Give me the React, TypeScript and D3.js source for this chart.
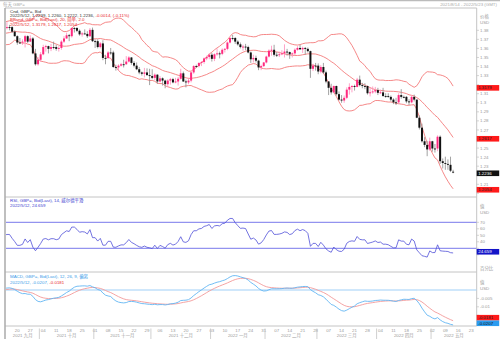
import React from 'react';
import * as d3 from 'd3';

// ---------- DATA (daily GBP= bid, weekdays from 2021-08-16) ----------
const startDate = '2021-08-16';
const endCalendar = '2022-06-01';

const opens = [
  1.3865, 1.3825, 1.3745, 1.3735, 1.3650,
  1.3625, 1.3715, 1.3735, 1.3715, 1.3720,
  1.3765, 1.3765, 1.3755, 1.3795, 1.3835,
  1.3865, 1.3845, 1.3785, 1.3765, 1.3835,
  1.3835, 1.3825, 1.3835, 1.3835, 1.3785,
  1.3735, 1.3665, 1.3665, 1.3675, 1.3735,
  1.3675, 1.3710, 1.3545, 1.3425, 1.3475,
  1.3535, 1.3615, 1.3625, 1.3595, 1.3615,
  1.3615, 1.3595, 1.3605, 1.3675, 1.3710,
  1.3745, 1.3735, 1.3825, 1.3825, 1.3795,
  1.3755, 1.3765, 1.3760, 1.3735, 1.3805,
  1.3680, 1.3680, 1.3615, 1.3655, 1.3495,
  1.3495, 1.3555, 1.3555, 1.3395, 1.3390,
  1.3410, 1.3425, 1.3425, 1.3455, 1.3500,
  1.3440, 1.3410, 1.3370, 1.3335, 1.3320,
  1.3335, 1.3305, 1.3295, 1.3275, 1.3310,
  1.3235, 1.3270, 1.3245, 1.3205, 1.3245,
  1.3260, 1.3225, 1.3235, 1.3265, 1.3325,
  1.3235, 1.3225, 1.3245, 1.3335, 1.3405,
  1.3405, 1.3440, 1.3450, 1.3490, 1.3505,
  1.3530, 1.3485, 1.3535, 1.3545, 1.3540,
  1.3585, 1.3595, 1.3665, 1.3715, 1.3715,
  1.3675, 1.3645, 1.3615, 1.3620, 1.3615,
  1.3555, 1.3480, 1.3495, 1.3465, 1.3390,
  1.3405, 1.3445, 1.3510, 1.3575, 1.3585,
  1.3530, 1.3530, 1.3535, 1.3545, 1.3565,
  1.3560, 1.3535, 1.3545, 1.3585, 1.3605,
  1.3590, 1.3605, 1.3595, 1.3570, 1.3375,
  1.3410, 1.3410, 1.3345, 1.3395, 1.3335,
  1.3235, 1.3165, 1.3115, 1.3185, 1.3095,
  1.3035, 1.3025, 1.3055, 1.3145, 1.3175,
  1.3185, 1.3175, 1.3255, 1.3195, 1.3185,
  1.3185, 1.3105, 1.3115, 1.3125, 1.3140,
  1.3110, 1.3115, 1.3075, 1.3075, 1.3065,
  1.3035, 1.3005, 1.3005, 1.3085, 1.3065,
  1.3065, 1.3015, 1.3005, 1.3065, 1.3035,
  1.2835, 1.2725, 1.2575, 1.2535, 1.2485,
  1.2575, 1.2495, 1.2495, 1.2625, 1.2355,
  1.2335, 1.2325, 1.2315, 1.2239,
];
const highs = [
  1.3870, 1.3835, 1.3790, 1.3745, 1.3665,
  1.3730, 1.3745, 1.3750, 1.3735, 1.3785,
  1.3780, 1.3785, 1.3815, 1.3845, 1.3890,
  1.3875, 1.3855, 1.3805, 1.3845, 1.3865,
  1.3850, 1.3890, 1.3860, 1.3845, 1.3800,
  1.3745, 1.3715, 1.3700, 1.3750, 1.3745,
  1.3745, 1.3725, 1.3595, 1.3505, 1.3560,
  1.3640, 1.3640, 1.3630, 1.3650, 1.3675,
  1.3640, 1.3625, 1.3690, 1.3735, 1.3775,
  1.3760, 1.3830, 1.3835, 1.3835, 1.3810,
  1.3780, 1.3810, 1.3790, 1.3825, 1.3830,
  1.3700, 1.3700, 1.3670, 1.3690, 1.3530,
  1.3570, 1.3605, 1.3575, 1.3420, 1.3425,
  1.3440, 1.3475, 1.3515, 1.3515, 1.3505,
  1.3460, 1.3445, 1.3395, 1.3345, 1.3385,
  1.3380, 1.3375, 1.3370, 1.3325, 1.3315,
  1.3295, 1.3280, 1.3255, 1.3260, 1.3275,
  1.3275, 1.3275, 1.3285, 1.3375, 1.3345,
  1.3255, 1.3275, 1.3345, 1.3415, 1.3420,
  1.3445, 1.3460, 1.3500, 1.3520, 1.3545,
  1.3550, 1.3545, 1.3600, 1.3565, 1.3600,
  1.3605, 1.3675, 1.3725, 1.3750, 1.3725,
  1.3690, 1.3665, 1.3640, 1.3650, 1.3630,
  1.3565, 1.3530, 1.3520, 1.3475, 1.3420,
  1.3450, 1.3520, 1.3590, 1.3630, 1.3640,
  1.3560, 1.3565, 1.3580, 1.3645, 1.3595,
  1.3565, 1.3555, 1.3600, 1.3625, 1.3640,
  1.3620, 1.3615, 1.3610, 1.3575, 1.3430,
  1.3440, 1.3435, 1.3415, 1.3440, 1.3355,
  1.3240, 1.3210, 1.3190, 1.3190, 1.3125,
  1.3085, 1.3080, 1.3170, 1.3215, 1.3195,
  1.3200, 1.3275, 1.3300, 1.3220, 1.3215,
  1.3190, 1.3170, 1.3180, 1.3175, 1.3165,
  1.3145, 1.3165, 1.3105, 1.3105, 1.3080,
  1.3050, 1.3055, 1.3105, 1.3150, 1.3080,
  1.3075, 1.3040, 1.3080, 1.3090, 1.3035,
  1.2860, 1.2770, 1.2620, 1.2580, 1.2615,
  1.2580, 1.2545, 1.2640, 1.2640, 1.2385,
  1.2405, 1.2375, 1.2405, 1.2260,
];
const lows = [
  1.3805, 1.3725, 1.3725, 1.3645, 1.3600,
  1.3620, 1.3700, 1.3700, 1.3680, 1.3690,
  1.3745, 1.3735, 1.3745, 1.3780, 1.3810,
  1.3830, 1.3770, 1.3725, 1.3750, 1.3815,
  1.3800, 1.3810, 1.3800, 1.3770, 1.3730,
  1.3640, 1.3650, 1.3640, 1.3610, 1.3660,
  1.3670, 1.3535, 1.3410, 1.3410, 1.3455,
  1.3525, 1.3565, 1.3545, 1.3570, 1.3590,
  1.3575, 1.3565, 1.3585, 1.3660, 1.3705,
  1.3680, 1.3720, 1.3775, 1.3780, 1.3740,
  1.3730, 1.3755, 1.3715, 1.3725, 1.3670,
  1.3605, 1.3600, 1.3600, 1.3470, 1.3425,
  1.3485, 1.3530, 1.3385, 1.3355, 1.3355,
  1.3400, 1.3390, 1.3420, 1.3445, 1.3420,
  1.3390, 1.3360, 1.3315, 1.3300, 1.3280,
  1.3300, 1.3195, 1.3260, 1.3250, 1.3210,
  1.3225, 1.3190, 1.3160, 1.3175, 1.3200,
  1.3215, 1.3215, 1.3190, 1.3255, 1.3230,
  1.3170, 1.3205, 1.3225, 1.3320, 1.3385,
  1.3390, 1.3405, 1.3430, 1.3470, 1.3480,
  1.3455, 1.3460, 1.3520, 1.3490, 1.3525,
  1.3555, 1.3580, 1.3655, 1.3690, 1.3650,
  1.3630, 1.3600, 1.3575, 1.3580, 1.3545,
  1.3440, 1.3445, 1.3445, 1.3360, 1.3360,
  1.3395, 1.3435, 1.3500, 1.3520, 1.3510,
  1.3505, 1.3505, 1.3525, 1.3500, 1.3520,
  1.3485, 1.3500, 1.3525, 1.3575, 1.3585,
  1.3550, 1.3530, 1.3555, 1.3275, 1.3350,
  1.3355, 1.3315, 1.3325, 1.3320, 1.3215,
  1.3085, 1.3090, 1.3105, 1.3080, 1.3025,
  1.3000, 1.3000, 1.3040, 1.3090, 1.3115,
  1.3135, 1.3170, 1.3180, 1.3160, 1.3150,
  1.3090, 1.3070, 1.3100, 1.3105, 1.3085,
  1.3100, 1.3065, 1.3055, 1.3055, 1.3015,
  1.2985, 1.2975, 1.2985, 1.3045, 1.3050,
  1.2995, 1.2975, 1.2995, 1.3015, 1.2830,
  1.2705, 1.2560, 1.2510, 1.2410, 1.2470,
  1.2460, 1.2450, 1.2465, 1.2325, 1.2275,
  1.2260, 1.2260, 1.2235, 1.2222,
];
const closes = [
  1.3825, 1.3745, 1.3735, 1.3650, 1.3625,
  1.3715, 1.3735, 1.3715, 1.3720, 1.3765,
  1.3765, 1.3755, 1.3795, 1.3835, 1.3865,
  1.3845, 1.3785, 1.3765, 1.3835, 1.3835,
  1.3825, 1.3835, 1.3835, 1.3785, 1.3735,
  1.3665, 1.3665, 1.3675, 1.3735, 1.3675,
  1.3710, 1.3545, 1.3425, 1.3475, 1.3535,
  1.3615, 1.3625, 1.3595, 1.3615, 1.3615,
  1.3595, 1.3605, 1.3675, 1.3710, 1.3745,
  1.3735, 1.3825, 1.3825, 1.3795, 1.3755,
  1.3765, 1.3760, 1.3735, 1.3805, 1.3680,
  1.3680, 1.3615, 1.3655, 1.3495, 1.3495,
  1.3555, 1.3555, 1.3395, 1.3390, 1.3410,
  1.3425, 1.3425, 1.3455, 1.3500, 1.3440,
  1.3410, 1.3370, 1.3335, 1.3320, 1.3335,
  1.3305, 1.3295, 1.3275, 1.3310, 1.3235,
  1.3270, 1.3245, 1.3205, 1.3245, 1.3260,
  1.3225, 1.3235, 1.3265, 1.3325, 1.3235,
  1.3225, 1.3245, 1.3335, 1.3405, 1.3405,
  1.3440, 1.3450, 1.3490, 1.3505, 1.3530,
  1.3485, 1.3535, 1.3545, 1.3540, 1.3585,
  1.3595, 1.3665, 1.3715, 1.3715, 1.3675,
  1.3645, 1.3615, 1.3620, 1.3615, 1.3555,
  1.3480, 1.3495, 1.3465, 1.3390, 1.3405,
  1.3445, 1.3510, 1.3575, 1.3585, 1.3530,
  1.3530, 1.3535, 1.3545, 1.3565, 1.3560,
  1.3535, 1.3545, 1.3585, 1.3605, 1.3590,
  1.3605, 1.3595, 1.3570, 1.3375, 1.3410,
  1.3410, 1.3345, 1.3395, 1.3335, 1.3235,
  1.3165, 1.3115, 1.3185, 1.3095, 1.3035,
  1.3025, 1.3055, 1.3145, 1.3175, 1.3185,
  1.3175, 1.3255, 1.3195, 1.3185, 1.3185,
  1.3105, 1.3115, 1.3125, 1.3140, 1.3110,
  1.3115, 1.3075, 1.3075, 1.3065, 1.3035,
  1.3005, 1.3005, 1.3085, 1.3065, 1.3065,
  1.3015, 1.3005, 1.3065, 1.3035, 1.2835,
  1.2725, 1.2575, 1.2535, 1.2485, 1.2575,
  1.2495, 1.2495, 1.2625, 1.2355, 1.2335,
  1.2325, 1.2315, 1.2250, 1.2236,
];

const monthNames = ['一月', '二月', '三月', '四月', '五月', '六月', '七月', '八月', '九月', '十月', '十一月', '十二月'];
const priceTicks = [1.2, 1.21, 1.22, 1.23, 1.24, 1.25, 1.26, 1.27, 1.28, 1.29, 1.3, 1.31, 1.32, 1.33, 1.34, 1.35, 1.36, 1.37, 1.38];
const rsiTicks = [20, 30, 40, 50, 60, 70];
const rsiLevels = [30, 70];
const macdTicks = [-0.005, -0.01, -0.015, -0.02];

const headerLeft = '每天 GBP=';
const headerRight = '2021/8/14 - 2022/5/23 (GMT)';
const mainTitle = 'Cnd, GBP=, Bid';
const mainValues = '2022/5/12, 1.2239, 1.2260, 1.2222, 1.2236, ';
const mainChange = '-0.0014, (-0.11%)';
const bbTitle = 'BBand, GBP=, Bid(Last), 20, 简单, 2.0';
const bbValues = '2022/5/12, 1.3179, 1.2617, 1.2054';
const rsiTitle = 'RSI, GBP=, Bid(Last), 14, 威尔德平滑';
const rsiValues = '2022/5/12, 24.659';
const macdTitle = 'MACD, GBP=, Bid(Last), 12, 26, 9, 偏离';
const macdValues = '2022/5/12, -0.0207, ';
const macdSignalValue = '-0.0181';
const lastBB = [1.3179, 1.2617, 1.2054];
const lastClose = 1.2236;
const lastRsi = 24.659;
const lastMacd = -0.0207;
const lastSignal = -0.0181;

// ---------- LAYOUT ----------
const W = 500, H = 340;
const PL = 6, PR = 476.7;
const MAIN_T = 8, MAIN_B = 197, RSI_B = 272, MACD_B = 326;
const FONT = "'Liberation Sans', Arial, 'Noto Sans CJK SC', sans-serif";
const FS = 4.4;
const AX = '#9a9a9a';

const parse = d3.timeParse('%Y-%m-%d');
const calendar = d3.timeDay
  .range(parse(startDate)!, parse(endCalendar)!)
  .filter((d) => d.getDay() !== 0 && d.getDay() !== 6);

const xScale = d3.scaleLinear().domain([20, 195]).range([4.33, 458.3]);
const step = xScale(1) - xScale(0);
const yPrice = d3.scaleLinear().domain([1.21, 1.38]).range([184.3, 30.3]);
const yRsi = d3.scaleLinear().domain([0, 100]).range([267.8, 202.8]);
const yMacd = d3.scaleLinear().domain([-0.02, 0]).range([323.6, 290]);

function computeBB(c: number[]) {
  return c.map((_, i) => {
    if (i < 19) return null;
    const s = c.slice(i - 19, i + 1);
    const m = d3.mean(s)!;
    const sd = Math.sqrt(d3.mean(s, (v) => (v - m) * (v - m))!);
    return { up: m + 2 * sd, mid: m, lo: m - 2 * sd };
  });
}
function computeRSI(c: number[]) {
  const out: (number | null)[] = c.map(() => null);
  let ag = 0, al = 0;
  for (let i = 1; i < c.length; i++) {
    const ch = c[i] - c[i - 1];
    const g = Math.max(ch, 0), l = Math.max(-ch, 0);
    if (i <= 14) {
      ag += g / 14; al += l / 14;
      if (i === 14) out[i] = 100 - 100 / (1 + ag / (al || 1e-9));
    } else {
      ag = (ag * 13 + g) / 14; al = (al * 13 + l) / 14;
      out[i] = 100 - 100 / (1 + ag / (al || 1e-9));
    }
  }
  return out;
}
function ema(v: number[], p: number) {
  const k = 2 / (p + 1);
  const o: number[] = [];
  v.forEach((x, i) => o.push(i === 0 ? x : o[i - 1] + k * (x - o[i - 1])));
  return o;
}

export default function App() {
  const n = closes.length;
  const bb = computeBB(closes);
  const rsi = computeRSI(closes);
  const e12 = ema(closes, 12), e26 = ema(closes, 26);
  const macd = e12.map((v, i) => v - e26[i]);
  const signal = ema(macd, 9);

  const lineOf = (vals: (number | null)[], y: d3.ScaleLinear<number, number>) =>
    d3.line<number | null>()
      .defined((v) => v != null)
      .x((_, i) => xScale(i))
      .y((v) => y(v as number))(vals) || '';

  const idx = d3.range(n).filter((i) => xScale(i) > PL - 2);

  // x-axis ticks (Mondays)
  const dayTicks = calendar
    .map((d, i) => ({ d, i }))
    .filter(({ d, i }) => d.getDay() === 1 && xScale(i) > 10 && xScale(i) < PR);
  // month spans
  const months: { label: string; start: number; end: number }[] = [];
  calendar.forEach((d, i) => {
    if (i === 0 || d.getMonth() !== calendar[i - 1].getMonth()) {
      months.push({
        label: `${d.getFullYear()} ${monthNames[d.getMonth()]}`,
        start: xScale(i) - step / 2,
        end: PR,
      });
      if (months.length > 1) months[months.length - 2].end = xScale(i) - step / 2;
    }
  });
  const visMonths = months
    .map((m) => ({ ...m, s: Math.max(m.start, PL), e: Math.min(m.end, PR) }))
    .filter((m) => m.e - m.s > 8);

  // value-label boxes (positions)
  const priceBoxes = [
    { y: yPrice(lastBB[0]) + 1.3, s: lastBB[0].toFixed(4), bg: '#ff1a1a', fg: '#222' },
    { y: yPrice(lastBB[1]) + 1.3, s: lastBB[1].toFixed(4), bg: '#ff1a1a', fg: '#222' },
    { y: yPrice(lastBB[2]) + 1.3, s: lastBB[2].toFixed(4), bg: '#ff1a1a', fg: '#222' },
    { y: yPrice(lastClose) + 1.3, s: lastClose.toFixed(4), bg: '#111', fg: '#fff' },
  ];
  const rsiBoxes = [{ y: yRsi(lastRsi), s: lastRsi.toFixed(3), bg: '#1414c8', fg: '#fff' }];
  const macdBoxes = [
    { y: yMacd(lastSignal) - 2.7, s: lastSignal.toFixed(4), bg: '#ff1a1a', fg: '#222' },
    { y: yMacd(lastMacd) - 1.5, s: lastMacd.toFixed(4), bg: '#2a9cf0', fg: '#111' },
  ];
  const free = (y: number, boxes: { y: number }[]) => boxes.every((b) => Math.abs(b.y - y) > 4.6);

  const txt = (x: number, y: number, s: string, fill = AX, anchor: any = 'start', fs = FS) => (
    <text x={x} y={y} fontSize={fs} fill={fill} textAnchor={anchor} fontFamily={FONT}>{s}</text>
  );
  const box = (b: { y: number; s: string; bg: string; fg: string }, k: string) => (
    <g key={k}>
      <rect x={PR} y={b.y - 2.8} width={22.5} height={5.6} fill={b.bg} />
      <text x={PR + 1.5} y={b.y + 1.6} fontSize={FS} fill={b.fg} fontFamily={FONT}>{b.s}</text>
    </g>
  );
  const tickMark = (y: number) => <line x1={PR} x2={479} y1={y} y2={y} stroke="#bbb" strokeWidth={0.6} />;

  return (
    <svg width={W} height={H} style={{ position: 'absolute', left: 0, top: 0, background: '#fff' }}>
      <defs>
        <clipPath id="cMain"><rect x={PL} y={MAIN_T} width={PR - PL} height={MAIN_B - MAIN_T} /></clipPath>
        <clipPath id="cRsi"><rect x={PL} y={MAIN_B} width={PR - PL} height={RSI_B - MAIN_B} /></clipPath>
        <clipPath id="cMacd"><rect x={PL} y={RSI_B} width={PR - PL} height={MACD_B - RSI_B} /></clipPath>
      </defs>
      <rect x={0} y={0} width={W} height={H} fill="#fff" />
      <line x1={0} x2={W} y1={0.6} y2={0.6} stroke="#bbb" strokeWidth={1.2} />
      {txt(3, 6, headerLeft, '#aaa')}
      {txt(497, 6, headerRight, '#aaa', 'end')}

      {/* frames */}
      <line x1={5} x2={PR} y1={MAIN_T} y2={MAIN_T} stroke="#c4c4c4" strokeWidth={1} />
      <line x1={5} x2={PR} y1={MAIN_B} y2={MAIN_B} stroke="#c4c4c4" strokeWidth={1} />
      <line x1={5} x2={PR} y1={RSI_B} y2={RSI_B} stroke="#c4c4c4" strokeWidth={1} />
      <line x1={5} x2={PR} y1={MACD_B} y2={MACD_B} stroke="#c4c4c4" strokeWidth={1} />
      <line x1={5} x2={5} y1={MAIN_T} y2={MACD_B + 13} stroke="#aaa" strokeWidth={1.5} />
      <line x1={PR} x2={PR} y1={MAIN_T} y2={MACD_B} stroke="#c4c4c4" strokeWidth={1} />

      {/* main panel */}
      <g clipPath="url(#cMain)">
        {(['up', 'mid', 'lo'] as const).map((k) => (
          <path key={k} d={lineOf(bb.map((b) => (b ? b[k] : null)), yPrice)} fill="none" stroke="#f47a7a" strokeWidth={0.9} />
        ))}
        {idx.map((i) => {
          const up = closes[i] > opens[i];
          const x = xScale(i);
          const yo = yPrice(opens[i]), yc = yPrice(closes[i]);
          const top = Math.min(yo, yc), h = Math.max(0.9, Math.abs(yo - yc));
          return (
            <g key={i}>
              <line x1={x} x2={x} y1={yPrice(highs[i])} y2={yPrice(lows[i])} stroke={up ? '#ff8cba' : '#8a8a8a'} strokeWidth={0.8} />
              <rect x={x - 1} y={top} width={2} height={h} fill={up ? '#ff2a7f' : '#111'} />
            </g>
          );
        })}
      </g>
      <text x={10} y={12.5} fontSize={FS} fontFamily={FONT} fill="#333">{mainTitle}</text>
      <text x={10} y={17} fontSize={FS} fontFamily={FONT} fill="#333">
        <tspan>{mainValues}</tspan><tspan fill="#e8262a">{mainChange}</tspan>
      </text>
      {txt(10, 21.3, bbTitle, '#e8262a')}
      {txt(10, 25.7, bbValues, '#e8262a')}

      {/* price axis */}
      {txt(480, 17.5, '价格')}
      {txt(480, 24, 'USD')}
      {priceTicks.map((t) => (
        <g key={t}>
          {tickMark(yPrice(t))}
          {free(yPrice(t), priceBoxes) && txt(480, yPrice(t) + 1.6, String(+t.toFixed(2)))}
        </g>
      ))}
      {priceBoxes.map((b, i) => box(b, 'p' + i))}

      {/* RSI panel */}
      <g clipPath="url(#cRsi)">
        {rsiLevels.map((l) => (
          <line key={l} x1={PL} x2={PR} y1={yRsi(l)} y2={yRsi(l)} stroke="#9393ef" strokeWidth={1.3} />
        ))}
        <path d={lineOf(rsi, yRsi)} fill="none" stroke="#5050d8" strokeWidth={0.8} />
      </g>
      {txt(10, 201.6, rsiTitle, '#3c3cd0')}
      {txt(10, 206.6, rsiValues, '#3c3cd0')}
      {txt(480, 207.5, '值')}
      {txt(480, 214, 'USD')}
      {rsiTicks.map((t) => (
        <g key={t}>
          {tickMark(yRsi(t))}
          {free(yRsi(t), rsiBoxes) && txt(480, yRsi(t) + 1.6, String(t))}
        </g>
      ))}
      {txt(480, 269.5, '百分比')}
      {rsiBoxes.map((b, i) => box(b, 'r' + i))}

      {/* MACD panel */}
      <g clipPath="url(#cMacd)">
        <line x1={PL} x2={PR} y1={yMacd(0)} y2={yMacd(0)} stroke="#9fd0f7" strokeWidth={1.2} />
        <path d={lineOf(signal, yMacd)} fill="none" stroke="#f39a9a" strokeWidth={0.9} />
        <path d={lineOf(macd, yMacd)} fill="none" stroke="#62b6f3" strokeWidth={0.9} />
      </g>
      {txt(10, 278, macdTitle, '#3a9be8')}
      <text x={10} y={284} fontSize={FS} fontFamily={FONT} fill="#3a9be8">
        <tspan>{macdValues}</tspan><tspan fill="#e8262a">{macdSignalValue}</tspan>
      </text>
      {txt(480, 283.5, '值')}
      {txt(480, 290, 'USD')}
      {macdTicks.map((t) => (
        <g key={t}>
          {tickMark(yMacd(t))}
          {free(yMacd(t), macdBoxes) && txt(480, yMacd(t) + 1.6, String(t))}
        </g>
      ))}
      {macdBoxes.map((b, i) => box(b, 'm' + i))}

      {/* x axis */}
      {dayTicks.map(({ d, i }) => (
        <g key={i}>{txt(xScale(i), 332.2, d3.timeFormat('%d')(d), AX, 'middle')}</g>
      ))}
      {visMonths.map((m) => (
        <g key={m.label}>
          {m.start > PL && <line x1={m.start} x2={m.start} y1={328.5} y2={339} stroke="#c4c4c4" strokeWidth={0.8} />}
          {txt((m.s + m.e) / 2, 337.2, m.label, AX, 'middle')}
        </g>
      ))}
    </svg>
  );
}
